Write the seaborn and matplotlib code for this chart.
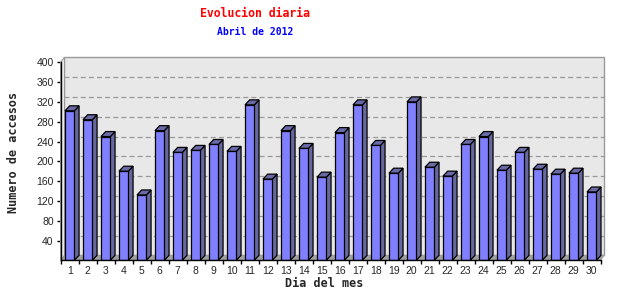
import matplotlib
matplotlib.use("Agg")
import matplotlib.pyplot as plt
import matplotlib.patches as mpatches
import seaborn as sns
import pandas as pd
import numpy as np

dias = [str(d) for d in range(1, 31)]
accesos = [302, 284, 250, 180, 132, 262, 218, 222, 234, 220,
           314, 164, 262, 226, 168, 258, 314, 232, 176, 320,
           188, 170, 234, 250, 182, 218, 184, 174, 176, 138]
y_ticks = [40, 80, 120, 160, 200, 240, 280, 320, 360, 400]

titulo = "Evolucion diaria"
subtitulo = "Abril de 2012"
x_label = "Dia del mes"
y_label = "Numero de accesos"

df = pd.DataFrame({"dia": dias, "accesos": accesos})

sns.set_style("white")
fig = plt.figure(figsize=(6.4, 3.0), dpi=100)
ax = fig.add_axes([0.0948, 0.1323, 0.8437, 0.66])

FRONT = "#8080FF"
SIDE = "#6868A0"
TOP = "#6A6AA8"

sns.barplot(data=df, x="dia", y="accesos", color=FRONT, saturation=1,
            width=0.52, edgecolor="black", linewidth=0.9, ax=ax, zorder=3)

ax.set_xlim(-0.5, 29.5)
ax.set_ylim(0, 400)
ax.set_facecolor("none")

# depth offset in data units
px_x = 30 / 540.0
px_y = 400 / 198.0
ddx = 4.7 * px_x
ddy = 5.0 * px_y
wdx = 3.8 * px_x
wdy = 5.0 * px_y

x0, x1 = -0.5, 29.5
# back wall
ax.add_patch(mpatches.Rectangle((x0 + wdx, wdy), (x1 - x0), 400, facecolor="#E8E8E8",
                                edgecolor="#999999", linewidth=1.0, zorder=0.5, clip_on=False))
# left wall
ax.add_patch(mpatches.Polygon([(x0, 0), (x0, 400), (x0 + wdx, 400 + wdy), (x0 + wdx, wdy)],
                              closed=True, facecolor="#F2F2F2", edgecolor="#999999",
                              linewidth=0.8, zorder=0.6, clip_on=False))
# floor
ax.add_patch(mpatches.Polygon([(x0, 0), (x1, 0), (x1 + wdx, wdy), (x0 + wdx, wdy)],
                              closed=True, facecolor="#A0A0A0", edgecolor="#A0A0A0",
                              linewidth=0.5, zorder=0.6, clip_on=False))
# grid on back wall
for yv in y_ticks[:-1]:
    ax.plot([x0 + wdx, x1 + wdx], [yv + wdy, yv + wdy], color="#999999",
            linestyle=(0, (4, 2.5)), linewidth=0.9, zorder=0.7, clip_on=False)

# 3D sides and tops derived from bar patches
for p in list(ax.patches):
    if not isinstance(p, mpatches.Rectangle) or p.get_zorder() != 3:
        continue
    bx, w, h = p.get_x(), p.get_width(), p.get_height()
    side = [(bx + w, 0), (bx + w, h), (bx + w + ddx, h + ddy), (bx + w + ddx, ddy)]
    top = [(bx, h), (bx + w, h), (bx + w + ddx, h + ddy), (bx + ddx, h + ddy)]
    ax.add_patch(mpatches.Polygon(side, closed=True, facecolor=SIDE, edgecolor="black",
                                  linewidth=0.9, zorder=2.5, clip_on=False))
    ax.add_patch(mpatches.Polygon(top, closed=True, facecolor=TOP, edgecolor="black",
                                  linewidth=0.9, zorder=2.5, clip_on=False))

for s in ["top", "right"]:
    ax.spines[s].set_visible(False)
for s in ["left", "bottom"]:
    ax.spines[s].set_color("black")
    ax.spines[s].set_linewidth(1.0)
    ax.spines[s].set_zorder(4)

ax.set_yticks(y_ticks)
ax.set_yticklabels([str(v) for v in y_ticks], fontfamily="Liberation Sans", fontsize=7.5)
ax.set_xticks(range(len(dias)))
ax.set_xticklabels(dias, fontfamily="Liberation Sans", fontsize=7.5)
ax.set_xticks(np.arange(-0.5, 30, 1.0), minor=True)
ax.tick_params(axis="y", length=3, width=1, color="black", pad=2, left=True)
ax.tick_params(axis="x", which="major", length=0, pad=4)
ax.tick_params(axis="x", which="minor", length=3, width=1, color="black", bottom=True)

ax.set_xlabel(x_label, fontfamily="DejaVu Sans Mono", fontweight="bold", fontsize=8.5)
ax.set_ylabel(y_label, fontfamily="DejaVu Sans Mono", fontweight="bold", fontsize=8.5)
ax.xaxis.set_label_coords(0.488, -0.085)
ax.yaxis.set_label_coords(-0.075, 0.544)

fig.text(0.398, 1 - 13.7 / 300, titulo, color="red", fontfamily="DejaVu Sans Mono",
         fontweight="bold", fontsize=8.3, ha="center", va="center")
fig.text(0.399, 1 - 32 / 300, subtitulo, color="blue", fontfamily="DejaVu Sans Mono",
         fontweight="bold", fontsize=7.0, ha="center", va="center")

fig.savefig("out.png", dpi=100)
